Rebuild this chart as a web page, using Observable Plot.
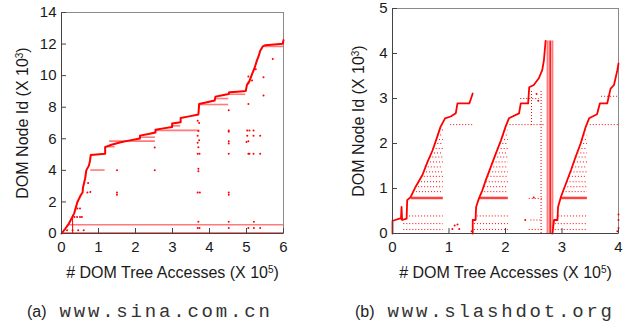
<!DOCTYPE html>
<html><head><meta charset="utf-8">
<script src="https://cdn.jsdelivr.net/npm/d3@7"></script>
<script src="https://cdn.jsdelivr.net/npm/@observablehq/plot@0.6"></script>
<style>
body{margin:0;background:#fff;}
#wrap{position:relative;width:628px;height:323px;overflow:hidden;font-family:"Liberation Sans",Arial,sans-serif;}
.panel{position:absolute;top:0;}
.cap{position:absolute;top:302px;font-size:16px;line-height:20px;color:#222;white-space:nowrap;}
.cap .mono{font-family:"Liberation Mono","DejaVu Sans Mono",monospace;font-size:19px;letter-spacing:2.8px;margin-left:13px;color:#333;}
</style></head><body>
<div id="wrap">
<div class="panel" id="a" style="left:0"></div>
<div class="panel" id="b" style="left:314px"></div>
<div class="cap" style="left:27px">(a)<span class="mono">www.sina.com.cn</span></div>
<div class="cap" style="left:355px">(b)<span class="mono">www.slashdot.org</span></div>
</div>
<script>
// ---------- tick labels ----------
const xTicksA = [0, 1, 2, 3, 4, 5, 6];
const yTicksA = [0, 2, 4, 6, 8, 10, 12, 14];
const xTicksB = [0, 1, 2, 3, 4];
const yTicksB = [0, 1, 2, 3, 4, 5];
const xLabel = "# DOM Tree Accesses (X 10^5)";
const yLabel = "DOM Node Id (X 10^3)";

// ---------- (a) www.sina.com.cn ----------
const sinaMainX = [0,0.1,0.2,0.34,0.43,0.52,0.57,0.58,0.64,0.67,0.74,0.77,0.79,1.18,1.18,1.35,1.6,1.85,2.12,2.12,2.35,2.54,2.54,2.75,2.99,2.99,3.22,3.22,3.45,3.7,3.72,3.9,4.14,4.16,4.35,4.52,4.53,4.75,4.98,5.01,5.08,5.15,5.22,5.28,5.33,5.37,5.44,5.5,5.75,5.98,6.0];
const sinaMainY = [0,0.3,0.63,1.26,2.0,2.42,2.6,2.9,3.5,4.0,4.3,4.6,4.97,5.05,5.47,5.62,5.78,5.9,6.02,6.2,6.3,6.4,6.57,6.66,6.75,6.97,7.05,7.32,7.42,7.54,8.2,8.3,8.42,8.67,8.76,8.84,8.95,8.98,9.02,9.4,9.65,10.1,10.5,10.95,11.25,11.58,11.85,11.92,11.97,12.02,12.25];
const sinaBandX1 = [0.79,1.18,1.3,2.12,2.54,2.99,3.72,4.16,4.53,5.5,0.22,0];
const sinaBandX2 = [1.18,1.45,2.54,2.54,3.74,3.22,4.52,4.52,4.98,6.0,6.0,6.0];
const sinaBandY  = [4.02,5.5,5.85,6.1,6.53,6.82,8.17,8.55,8.82,11.85,0.55,0.05];
const sinaVX = [0.3], sinaVY1 = [0], sinaVY2 = [1.15];
const sinaDotX = [0.35,0.42,0.5,0.55,0.43,0.5,0.72,0.78,0.7,0.15,0.3,0.45,0.6, 1.5,1.5,1.5, 2.52,2.52, 3.68,3.72,3.7,3.68,3.72,3.68,3.7,3.68,3.73,3.7,3.7,3.68,3.74,3.68,3.73,3.7, 4.52,4.52,4.52,4.52,4.52,4.52,4.52,4.52,4.52,4.52, 5.05,5.05,5.05,5.02,5.08,5.02,5.05,5.0,5.05,5.08,5.05, 5.19,5.19,5.19,5.2,5.2, 5.37,5.37,5.37, 5.46,5.46, 5.71, 5.15,5.25];
const sinaDotY = [1.05,1.05,1.05,1.05,1.58,1.58,3.2,2.63,2.6,0.2,0.2,0.2,0.2, 4.0,2.6,2.45, 4.0,5.45, 7.15,7.0,6.5,6.2,5.9,5.75,5.47,5.05,5.05,4.1,3.95,2.6,2.6,0.35,0.35,0.75, 7.8,6.53,6.45,5.85,5.7,5.05,2.6,2.45,0.35,0.75, 9.95,9.53,8.2,6.53,6.53,6.2,5.85,5.8,5.05,5.05,0.35, 6.53,6.2,5.05,0.35,0.75, 6.2,5.05,0.35, 9.9,8.74, 11.05, 9.7,10.4];

// ---------- (b) www.slashdot.org ----------
const sd1X = [0,0,0.05,0.12,0.15,0.16,0.17,0.25,0.26,0.32,0.41,0.53,0.62,0.71,0.80,0.85,0.93,1.03,1.12,1.15,1.36,1.42];
const sd1Y = [0,0.28,0.3,0.33,0.33,0.59,0.3,0.33,0.74,0.81,1.04,1.30,1.59,1.85,2.18,2.37,2.56,2.6,2.67,2.89,2.89,3.11];
const sd2X = [1.42,1.42,1.47,1.48,1.53,1.59,1.65,1.74,1.83,1.92,2.0,2.06,2.24,2.27,2.4,2.42,2.5,2.59,2.65,2.68,2.71];
const sd2Y = [0,0.3,0.3,0.59,0.78,0.96,1.18,1.48,1.78,2.07,2.37,2.56,2.67,2.89,2.89,3.25,3.3,3.45,3.63,3.85,4.28];
const sd3X = [2.83,2.86,2.92,2.93,2.98,3.07,3.16,3.24,3.33,3.42,3.48,3.62,3.67,3.8,3.86,3.92,3.98,4.0];
const sd3Y = [0,0.3,0.3,0.59,0.81,1.11,1.41,1.70,2.0,2.37,2.56,2.65,2.89,2.89,3.22,3.3,3.63,3.78];
const sdRowY      = [0.09,0.22,0.39,0.93,1.04,1.15,1.27,1.37,1.48,1.59,1.70,1.79,1.89,2.0,2.09,2.19,2.30];
const sdRowStart1 = [0.2,0.2,0.25,0.37,0.41,0.46,0.51,0.55,0.58,0.62,0.66,0.69,0.72,0.75,0.78,0.8,0.83];
const sdRowStart2 = [1.45,1.45,1.5,1.58,1.63,1.66,1.69,1.72,1.74,1.78,1.81,1.84,1.87,1.9,1.93,1.96,1.99];
const sdRowStart3 = [2.88,2.88,2.94,3.02,3.05,3.09,3.13,3.16,3.19,3.22,3.25,3.28,3.3,3.33,3.36,3.39,3.41];
const sdRowEnd = [0.9, 2.05, 3.45];
const sdBandX1 = [0.33,1.54,2.98], sdBandX2 = [0.9,2.05,3.45], sdBandY = [0.79,0.79,0.79];
const sdExtraX1 = [1.03,2.08,3.5,2.42,2.45,2.42,2.27,3.7];
const sdExtraX2 = [1.42,2.7,4.0,2.65,2.65,2.65,2.6,4.0];
const sdExtraY  = [2.42,2.42,2.42,0.78,0.3,0.09,3.0,3.05];
const sdColX = [2.63,2.46], sdColY1 = [0,2.4], sdColY2 = [3.2,3.2];
const sdVX = [2.745,2.79,2.83], sdVTop = [4.28,4.28,4.28];
const sdDotX = [1.06,1.1,1.18,1.15,4.0,4.0,4.0,3.98,2.35,2.5,1.4,2.55,2.58];
const sdDotY = [0.1,0.18,0.1,0.2,0.42,0.3,0.12,0.05,0.3,0.8,0.05,3.1,2.95];

// ---------- helpers ----------
const RED = "#ff0000", PINK = "#ff7a7a";
const pts = (xs, ys) => xs.map((x, i) => ({x, y: ys[i]}));
const segs = (x1s, x2s, ys) => x1s.map((x1, i) => ({x1, x2: x2s[i], y: ys[i]}));
const vsegs = (xs, y1s, y2s) => xs.map((x, i) => ({x, y1: y1s[i], y2: y2s[i]}));
const FONT = "Liberation Sans, Arial, Helvetica, sans-serif";

function supify(svg) {
  const ns = "http://www.w3.org/2000/svg";
  svg.querySelectorAll("text").forEach(t => {
    const s = t.textContent;
    if (!s.includes("^")) return;
    const [a, rest] = s.split("^");
    t.textContent = "";
    const t1 = document.createElementNS(ns, "tspan"); t1.textContent = a;
    const t2 = document.createElementNS(ns, "tspan"); t2.textContent = rest[0];
    t2.setAttribute("dy", "-5"); t2.setAttribute("font-size", "10");
    const t3 = document.createElementNS(ns, "tspan"); t3.textContent = rest.slice(1);
    t3.setAttribute("dy", "5");
    t.append(t1, t2, t3);
  });
  return svg;
}

function panel({W, H, mL, mR, mT, mB, xd, yd, xt, yt, yLabDx, marks}) {
  const iw = W - mL - mR, ih = H - mT - mB;
  return supify(Plot.plot({
    width: W, height: H,
    marginLeft: mL, marginRight: mR, marginTop: mT, marginBottom: mB,
    x: {domain: xd, label: null},
    y: {domain: yd, label: null},
    style: {fontFamily: FONT, fontSize: "15px", color: "#1a1a1a", background: "transparent"},
    marks: [
      Plot.frame({stroke: "#8a8a8a"}),
      ...marks,
      Plot.ruleX([xd[0]], {stroke: "#444"}),
      Plot.ruleY([yd[0]], {stroke: "#444"}),
      Plot.tickX(xt, {x: d => d, insetTop: ih - 5, stroke: "#444"}),
      Plot.tickY(yt, {y: d => d, insetRight: iw - 5, stroke: "#444"}),
      Plot.axisX({ticks: xt, tickSize: 0, tickPadding: 8, label: null, tickFormat: d => String(d)}),
      Plot.axisY({ticks: yt, tickSize: 0, tickPadding: 5, label: null, tickFormat: d => String(d)}),
      Plot.text([xLabel], {frameAnchor: "bottom", dy: 44, fontSize: 16, textAnchor: "middle"}),
      Plot.text([yLabel], {frameAnchor: "left", rotate: -90, dx: yLabDx, fontSize: 16, textAnchor: "middle"})
    ]
  }));
}

const sinaMarks = [
  Plot.ruleY(segs(sinaBandX1, sinaBandX2, sinaBandY), {x1: "x1", x2: "x2", y: "y", stroke: PINK, strokeWidth: 1.6}),
  Plot.ruleX(vsegs(sinaVX, sinaVY1, sinaVY2), {x: "x", y1: "y1", y2: "y2", stroke: RED, strokeWidth: 1}),
  Plot.dot(pts(sinaDotX, sinaDotY), {x: "x", y: "y", r: 1, fill: RED, stroke: null}),
  Plot.line(pts(sinaMainX, sinaMainY), {x: "x", y: "y", stroke: RED, strokeWidth: 2})
];

const rowData = [];
[sdRowStart1, sdRowStart2, sdRowStart3].forEach((starts, c) =>
  starts.forEach((x1, i) => rowData.push({x1, x2: sdRowEnd[c], y: sdRowY[i]})));

const sdMarks = [
  Plot.ruleY(rowData, {x1: "x1", x2: "x2", y: "y", stroke: RED, strokeWidth: 1, strokeDasharray: "1 2"}),
  Plot.ruleY(segs(sdExtraX1, sdExtraX2, sdExtraY), {x1: "x1", x2: "x2", y: "y", stroke: RED, strokeWidth: 1, strokeDasharray: "1 2"}),
  Plot.ruleX(vsegs(sdColX, sdColY1, sdColY2), {x: "x", y1: "y1", y2: "y2", stroke: RED, strokeWidth: 1, strokeDasharray: "1 2"}),
  Plot.ruleY(segs(sdBandX1, sdBandX2, sdBandY), {x1: "x1", x2: "x2", y: "y", stroke: RED, strokeWidth: 2.5, strokeOpacity: 0.75}),
  Plot.ruleX(sdVX.map((x, i) => ({x, y1: 0, y2: sdVTop[i], k: i})), {x: "x", y1: "y1", y2: "y2", stroke: d => d.k === 1 ? RED : PINK, strokeWidth: d => d.k === 1 ? 1.5 : 2}),
  Plot.dot(pts(sdDotX, sdDotY), {x: "x", y: "y", r: 1, fill: RED, stroke: null}),
  Plot.line(pts(sd1X, sd1Y), {x: "x", y: "y", stroke: RED, strokeWidth: 1.8}),
  Plot.line(pts(sd2X, sd2Y), {x: "x", y: "y", stroke: RED, strokeWidth: 1.8}),
  Plot.line(pts(sd3X, sd3Y), {x: "x", y: "y", stroke: RED, strokeWidth: 1.8})
];

document.getElementById("a").append(panel({
  W: 314, H: 290, mL: 61, mR: 31, mT: 12, mB: 57,
  xd: [0, 6], yd: [0, 14], xt: xTicksA, yt: yTicksA, yLabDx: -39, marks: sinaMarks
}));
document.getElementById("b").append(panel({
  W: 314, H: 290, mL: 78, mR: 10, mT: 8, mB: 57,
  xd: [0, 4], yd: [0, 5], xt: xTicksB, yt: yTicksB, yLabDx: -34, marks: sdMarks
}));
</script>
</body></html>
